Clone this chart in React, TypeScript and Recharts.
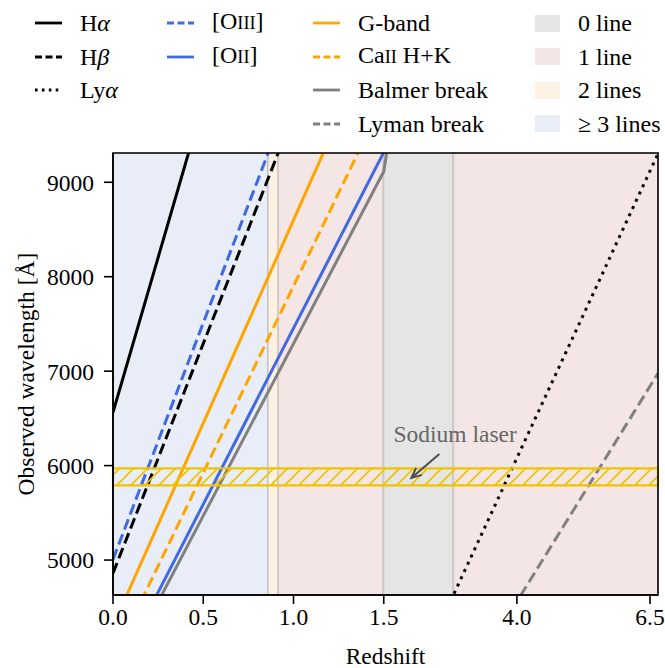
import React from "react";
import {
  ComposedChart,
  Line,
  XAxis,
  YAxis,
  ReferenceArea,
  ReferenceLine,
  ReferenceDot,
  Label,
} from "recharts";

const FONT = "'Liberation Serif', 'Times New Roman', Times, serif";

// redshift axis is linear up to 1.5, then squeezed
const BREAK_Z = 1.5;
const SQUEEZE = 0.295;
const toAxis = (z: number) => (z <= BREAK_Z ? z : BREAK_Z + (z - BREAK_Z) * SQUEEZE);

const Z_MAX = 6.65;
const WL_MIN = 4630;
const WL_MAX = 9310;

const TICK_Z = [0, 0.5, 1.0, 1.5, 4.0, 6.5];
const TICK_LABELS = ["0.0", "0.5", "1.0", "1.5", "4.0", "6.5"];
const WL_TICKS = [5000, 6000, 7000, 8000, 9000];

// observed wavelength (Å) of each feature at these redshifts
const Z_NODES = [0, 1.5, 6.65];
const HALPHA = [6563, 16408, 50207];
const HBETA = [4861, 12153, 37187];
const LYALPHA = [1216, 3040, 9302];
const OIII = [5007, 12518, 38304];
const OII = [3727, 9318, 28512];
const GBAND = [4300, 10750, 32895];
const CAII = [3950, 9875, 30218];
const BALMER = [3646, 9115, 27892];
const LYMAN = [912, 2280, 6977];

// number of lines in the window between these redshifts
const REGION_EDGES = [0, 0.859, 0.915, 1.498, 2.808, 6.65];
const REGION_KIND = [3, 2, 1, 0, 1];

const SODIUM_BAND = [5790, 5970];
const ARROW_FROM = { z: 2.544, wl: 6124 };
const ARROW_TO = { z: 2.018, wl: 5869 };
const NOTE_AT = { z: 2.84, wl: 6340 };

const BLACK = "#000000";
const BLUE = "#4169e1";
const ORANGE = "#ffa500";
const GRAY = "#808080";
const GOLD = "#efc300";

const REGION_COLORS: Record<number, string> = {
  0: "#e5e5e5",
  1: "#f5e6e6",
  2: "#fdf1e4",
  3: "#e9edf8",
};

const SOLID = undefined;
const DASHED = "11 5";
const DOTTED = "3 5";

const SERIES = [
  { id: "ha", values: HALPHA, color: BLACK, dash: SOLID },
  { id: "hb", values: HBETA, color: BLACK, dash: DASHED },
  { id: "lya", values: LYALPHA, color: BLACK, dash: DOTTED },
  { id: "oiii", values: OIII, color: BLUE, dash: DASHED },
  { id: "oii", values: OII, color: BLUE, dash: SOLID },
  { id: "g", values: GBAND, color: ORANGE, dash: SOLID },
  { id: "ca", values: CAII, color: ORANGE, dash: DASHED },
  { id: "balmer", values: BALMER, color: GRAY, dash: SOLID },
  { id: "lyman", values: LYMAN, color: GRAY, dash: DASHED },
];

const smallCaps = (s: string) => <span style={{ fontSize: "0.76em" }}>{s}</span>;

const LEGEND_LINES = [
  { col: 0, row: 0, label: <>H<i>α</i></>, color: BLACK, dash: SOLID },
  { col: 0, row: 1, label: <>H<i>β</i></>, color: BLACK, dash: "7 3.5" },
  { col: 0, row: 2, label: <>Ly<i>α</i></>, color: BLACK, dash: "2.6 4.3" },
  { col: 1, row: 0, label: <>[O{smallCaps("III")}]</>, color: BLUE, dash: "7 3.5" },
  { col: 1, row: 1, label: <>[O{smallCaps("II")}]</>, color: BLUE, dash: SOLID },
  { col: 2, row: 0, label: "G-band", color: ORANGE, dash: SOLID },
  { col: 2, row: 1, label: <>Ca{smallCaps("II")} H+K</>, color: ORANGE, dash: "7 3.5" },
  { col: 2, row: 2, label: "Balmer break", color: GRAY, dash: SOLID },
  { col: 2, row: 3, label: "Lyman break", color: GRAY, dash: "7 3.5" },
];
const LEGEND_PATCHES = [
  { row: 0, label: "0 line", kind: 0 },
  { row: 1, label: "1 line", kind: 1 },
  { row: 2, label: "2 lines", kind: 2 },
  { row: 3, label: "≥ 3 lines", kind: 3 },
];
const COL_SAMPLE_X = [35, 167, 313];
const COL_TEXT_X = [80, 212, 358];
const ROW_Y = (r: number) => 23 + r * 33.6;

function TopLegend() {
  const text: React.CSSProperties = {
    position: "absolute",
    fontFamily: FONT,
    fontSize: 24,
    lineHeight: "24px",
    whiteSpace: "nowrap",
    transform: "translateY(-52%)",
    color: "#000",
  };
  return (
    <div style={{ position: "absolute", left: 0, top: 0, width: 665, height: 145, fontFamily: FONT }}>
      {LEGEND_LINES.map((it, i) => (
        <React.Fragment key={i}>
          <svg
            width={28}
            height={10}
            style={{ position: "absolute", left: COL_SAMPLE_X[it.col], top: ROW_Y(it.row) - 5 }}
          >
            <line x1={0} y1={5} x2={27} y2={5} stroke={it.color} strokeWidth={2.8} strokeDasharray={it.dash} />
          </svg>
          <div style={{ ...text, left: COL_TEXT_X[it.col], top: ROW_Y(it.row) }}>{it.label}</div>
        </React.Fragment>
      ))}
      {LEGEND_PATCHES.map((it, i) => (
        <React.Fragment key={"p" + i}>
          <div
            style={{
              position: "absolute",
              left: 535,
              top: ROW_Y(it.row) - 8.5,
              width: 25,
              height: 17,
              background: REGION_COLORS[it.kind],
            }}
          />
          <div style={{ ...text, left: 578, top: ROW_Y(it.row) }}>{it.label}</div>
        </React.Fragment>
      ))}
    </div>
  );
}

function Arrow(props: any) {
  const { x1, y1, x2, y2 } = props;
  const ang = Math.atan2(y2 - y1, x2 - x1);
  const len = 11;
  const spread = 0.42;
  const ax = x2 - len * Math.cos(ang - spread);
  const ay = y2 - len * Math.sin(ang - spread);
  const bx = x2 - len * Math.cos(ang + spread);
  const by = y2 - len * Math.sin(ang + spread);
  return (
    <g stroke="#4d4d4d" strokeWidth={2} fill="none">
      <line x1={x1} y1={y1} x2={x2} y2={y2} />
      <polyline points={`${ax},${ay} ${x2},${y2} ${bx},${by}`} />
    </g>
  );
}

export default function App() {
  const uMax = toAxis(Z_MAX);
  const tickU = TICK_Z.map(toAxis);
  const fmt = (v: number) => {
    const i = tickU.findIndex((t) => Math.abs(t - v) < 1e-6);
    return i >= 0 ? TICK_LABELS[i] : "";
  };
  const tickStyle = { fill: "#000", fontSize: 23.5, fontFamily: FONT };

  return (
    <div
      style={{
        position: "absolute",
        left: 0,
        top: 0,
        width: 665,
        height: 668,
        background: "#fff",
        fontFamily: FONT,
      }}
    >
      <ComposedChart
        width={665}
        height={668}
        margin={{ top: 153, right: 7, bottom: 0, left: 0 }}
        style={{ fontFamily: FONT }}
      >
        <defs>
          <pattern id="naHatch" patternUnits="userSpaceOnUse" width={14} height={14}>
            <path d="M0,14 L14,0 M-3,3 L3,-3 M11,17 L17,11" stroke={GOLD} strokeWidth={1.7} />
          </pattern>
        </defs>
        <XAxis
          dataKey="x"
          type="number"
          xAxisId={0}
          domain={[0, uMax]}
          ticks={tickU}
          interval={0}
          tickFormatter={fmt}
          allowDataOverflow
          height={73}
          tick={tickStyle}
          tickSize={9}
          tickMargin={4}
          axisLine={{ stroke: "#000", strokeWidth: 1.6 }}
          tickLine={{ stroke: "#000", strokeWidth: 1.6 }}
        >
          <Label
            content={(p: any) => {
              const vb = p.viewBox || { x: 113, width: 545 };
              return (
                <text
                  x={vb.x + vb.width / 2}
                  y={664}
                  textAnchor="middle"
                  fontSize={23.5}
                  fontFamily={FONT}
                  fill="#000"
                >
                  Redshift
                </text>
              );
            }}
          />
        </XAxis>
        <YAxis
          dataKey="y"
          type="number"
          yAxisId={0}
          domain={[WL_MIN, WL_MAX]}
          ticks={WL_TICKS}
          interval={0}
          allowDataOverflow
          width={113}
          tick={tickStyle}
          tickSize={9}
          tickMargin={10}
          axisLine={{ stroke: "#000", strokeWidth: 1.6 }}
          tickLine={{ stroke: "#000", strokeWidth: 1.6 }}
        >
          <Label
            content={(p: any) => {
              const vb = p.viewBox || { y: 153, height: 442 };
              const cy = vb.y + vb.height / 2;
              return (
                <text
                  x={26}
                  y={cy}
                  transform={`rotate(-90 26 ${cy})`}
                  textAnchor="middle"
                  dominantBaseline="central"
                  fontSize={23.5}
                  fontFamily={FONT}
                  fill="#000"
                >
                  Observed wavelength [Å]
                </text>
              );
            }}
          />
        </YAxis>

        {REGION_KIND.map((kind, i) => (
          <ReferenceArea
            key={"r" + i}
            x1={toAxis(REGION_EDGES[i])}
            x2={toAxis(REGION_EDGES[i + 1])}
            y1={WL_MIN}
            y2={WL_MAX}
            fill={REGION_COLORS[kind]}
            fillOpacity={1}
            stroke="#000"
            strokeOpacity={0.1}
            strokeWidth={2}
            zIndex={-100}
          />
        ))}

        {SERIES.map((s) => (
          <Line
            key={s.id}
            data={Z_NODES.map((z, i) => ({ x: toAxis(z), y: s.values[i] }))}
            dataKey="y"
            type="linear"
            stroke={s.color}
            strokeWidth={3}
            strokeDasharray={s.dash}
            dot={false}
            activeDot={false}
            isAnimationActive={false}
          />
        ))}

        <ReferenceArea
          x1={0}
          x2={uMax}
          y1={SODIUM_BAND[0]}
          y2={SODIUM_BAND[1]}
          fill="url(#naHatch)"
          fillOpacity={1}
          stroke={GOLD}
          strokeWidth={2.2}
          zIndex={450}
        />

        <ReferenceLine
          segment={[
            { x: toAxis(ARROW_FROM.z), y: ARROW_FROM.wl },
            { x: toAxis(ARROW_TO.z), y: ARROW_TO.wl },
          ]}
          shape={Arrow}
          zIndex={460}
        />
        <ReferenceDot
          x={toAxis(NOTE_AT.z)}
          y={NOTE_AT.wl}
          r={0}
          zIndex={460}
          shape={(p: any) => (
            <text
              x={p.cx}
              y={p.cy}
              textAnchor="middle"
              dominantBaseline="central"
              fontSize={23.5}
              fontFamily={FONT}
              fill="#666666"
            >
              Sodium laser
            </text>
          )}
        />

        <ReferenceArea
          x1={0}
          x2={uMax}
          y1={WL_MIN}
          y2={WL_MAX}
          fill="none"
          stroke="#000"
          strokeWidth={1.6}
          zIndex={600}
        />
      </ComposedChart>
      <TopLegend />
    </div>
  );
}
